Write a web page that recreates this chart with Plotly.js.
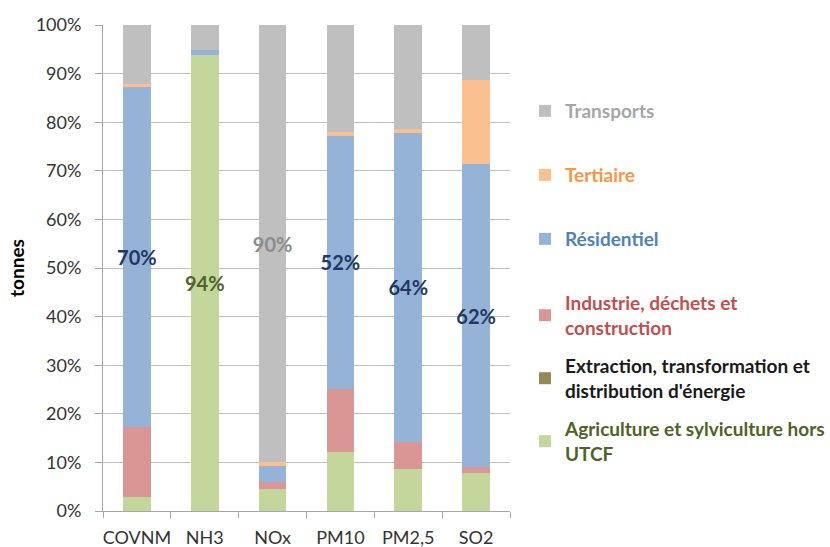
<!DOCTYPE html>
<html>
<head>
<meta charset="utf-8">
<script src="https://cdn.plot.ly/plotly-3.0.1.min.js"></script>
<style>html,body{margin:0;padding:0;background:#fff;}#chart{width:830px;height:547px;}</style>
</head>
<body>
<div id="chart"></div>
<script>
// Categories (pollutants)
const categories = ['COVNM', 'NH3', 'NOx', 'PM10', 'PM2,5', 'SO2'];

// Shares (%) by sector
const agriculture = [2.9, 93.8, 4.5, 12.1, 8.6, 7.8];
const extraction  = [0, 0, 0, 0, 0, 0];
const industrie   = [14.4, 0, 1.4, 13.0, 5.7, 1.3];
const residentiel = [69.9, 1.1, 3.4, 52.1, 63.5, 62.2];
const tertiaire   = [0.6, 0, 0.7, 0.8, 0.9, 17.4];
const transports  = [12.2, 5.1, 90.0, 22.0, 21.3, 11.3];

// Data labels shown on the bars
const agricultureLabels = ['', '94%', '', '', '', ''];
const residentielLabels = ['70%', '', '', '52%', '64%', '62%'];
const transportsLabels  = ['', '', '90%', '', '', ''];

// Tick labels
const yTickVals = [0, 10, 20, 30, 40, 50, 60, 70, 80, 90, 100];
const yTickText = ['0%', '10%', '20%', '30%', '40%', '50%', '60%', '70%', '80%', '90%', '100%'];

const FONT = 'Lato, "Open Sans", sans-serif';
const W = 830, H = 547;
const PAPER_TOP = 25, PAPER_BOTTOM = 511;

function barTrace(name, y, color, legendId, labels, labelColor) {
  const t = {
    type: 'bar', name: name, x: categories, y: y,
    marker: { color: color, line: { width: 0 } },
    legend: legendId,
    hoverinfo: 'skip'
  };
  if (labels) {
    t.text = labels;
    t.textposition = 'inside';
    t.insidetextanchor = 'middle';
    t.constraintext = 'none';
    t.textangle = 0;
    t.insidetextfont = { family: FONT, size: 20, color: labelColor, weight: 'bold' };
  } else {
    t.textposition = 'none';
  }
  return t;
}

const traces = [
  barTrace('Agriculture et sylviculture hors<br>UTCF', agriculture, '#c3d69b', 'legend6', agricultureLabels, '#4f6228'),
  barTrace('Extraction, transformation et<br>distribution d\'énergie', extraction, '#948a54', 'legend5'),
  barTrace('Industrie, déchets et<br>construction', industrie, '#d99694', 'legend4'),
  barTrace('Résidentiel', residentiel, '#95b3d7', 'legend3', residentielLabels, '#1f3864'),
  barTrace('Tertiaire', tertiaire, '#fac090', 'legend2'),
  barTrace('Transports', transports, '#bfbfbf', 'legend', transportsLabels, '#8c8c8c')
];

function leg(yPix, color) {
  return {
    xref: 'container', yref: 'container',
    x: 525 / W, xanchor: 'left',
    y: 1 - (yPix - 18) / H, yanchor: 'top',
    bgcolor: 'rgba(0,0,0,0)', borderwidth: 0,
    font: { family: FONT, size: 19, color: color, weight: 'bold' },
    itemclick: false, itemdoubleclick: false
  };
}

const layout = {
  width: W, height: H,
  margin: { l: 103, r: W - 510, t: PAPER_TOP, b: H - PAPER_BOTTOM, pad: 0, autoexpand: false },
  paper_bgcolor: '#ffffff', plot_bgcolor: '#ffffff',
  barmode: 'stack', bargap: 0.59,
  font: { family: FONT, size: 18, color: '#333333' },
  showlegend: true,
  legend:  leg(110, '#a6a6a6'),
  legend2: leg(174, '#f79646'),
  legend3: leg(238, '#4f81bd'),
  legend4: leg(302, '#c0504d'),
  legend5: leg(365, '#1a1a1a'),
  legend6: leg(428, '#4f6228'),
  xaxis: {
    type: 'category', tickson: 'boundaries',
    ticks: 'outside', ticklen: 6, tickcolor: '#a6a6a6', tickwidth: 1,
    showline: true, linecolor: '#a6a6a6', linewidth: 1,
    showgrid: false, zeroline: false,
    tickangle: 0, ticklabelstandoff: 10,
    tickfont: { family: FONT, size: 18, color: '#333333' },
    fixedrange: true
  },
  yaxis: {
    range: [0, 100], tickvals: yTickVals, ticktext: yTickText,
    ticks: 'outside', ticklen: 7, tickcolor: '#a6a6a6', tickwidth: 1,
    showline: true, linecolor: '#a6a6a6', linewidth: 1,
    showgrid: true, gridcolor: '#bfbfbf', gridwidth: 1,
    zeroline: false, ticklabelstandoff: 10,
    tickfont: { family: FONT, size: 18, color: '#333333' },
    title: { text: 'tonnes', font: { family: FONT, size: 19, color: '#000000', weight: 'bold' }, standoff: 6 },
    fixedrange: true
  }
};

Plotly.newPlot('chart', traces, layout, { staticPlot: true, displayModeBar: false });
</script>
</body>
</html>
